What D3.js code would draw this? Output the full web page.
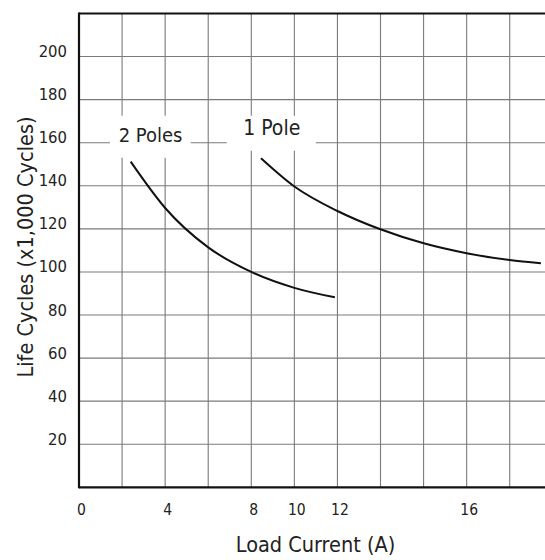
<!DOCTYPE html>
<html><head><meta charset="utf-8">
<script src="https://cdn.jsdelivr.net/npm/d3@7"></script>
<style>
body{margin:0;background:#fff}
text{font-family:"Liberation Sans Narrow","DejaVu Sans Condensed",sans-serif;fill:#222}
</style>
</head><body>
<svg id="c" width="545" height="560"></svg>
<script>
// ---- data ----
const xTickValues = [0, 4, 8, 10, 12, 16];
const yTickValues = [20, 40, 60, 80, 100, 120, 140, 160, 180, 200];
const seriesNames = ["2 Poles", "1 Pole"];
const twoPoleCurrent = [2.4, 4, 6, 8, 10, 11.88];
const twoPoleLife    = [151.2, 129.7, 111.4, 100, 92.6, 88.2];
const onePoleCurrent = [8.45, 10, 12, 13.33, 14.67, 16, 17.33, 18.3];
const onePoleLife    = [152.8, 139.7, 128.3, 119.8, 113.3, 108.7, 105.5, 104];
const labelAnchors = [{current: 3.32, life: 160}, {current: 8.95, life: 160}];

// ---- layout ----
const W = 545, H = 560;
const plotLeft = 79, plotTop = 13.5, plotBottom = 487.3;
const svg = d3.select("#c");

const y = d3.scaleLinear().domain([0, 220]).range([plotBottom, plotTop]);
const cell = (plotBottom - plotTop) / 11;
// the printed axis is not linear: tick labels sit on grid cells 0,2,4,5,6,9
const tickCells = [0, 2, 4, 5, 6, 9];
const x = d3.scaleLinear().domain(xTickValues).range(tickCells.map(c => plotLeft + c * cell));

// grid
const g = svg.append("g");
const vLines = d3.range(1, 12).map(k => plotLeft + k * cell).filter(v => v < W);
g.selectAll("line.v").data(vLines).join("line")
  .attr("x1", d => d).attr("x2", d => d).attr("y1", plotTop).attr("y2", plotBottom)
  .attr("stroke", "#7a7a7a").attr("stroke-width", 1.1);
g.selectAll("line.h").data(yTickValues).join("line")
  .attr("x1", plotLeft).attr("x2", W).attr("y1", d => y(d)).attr("y2", d => y(d))
  .attr("stroke", "#7a7a7a").attr("stroke-width", 1.1);

// label boxes (white) over grid
const boxes = [
  {dx0: -40.5, dx1: 40.2, dy0: -27, dy1: 15},
  {dx0: -45, dx1: 44, dy0: -27, dy1: 8}
];
const labelSizes = [20, 21];
const labelDy = [-0.6, -8];
labelAnchors.forEach((a, i) => {
  const cx = x(a.current), cy = y(a.life), b = boxes[i];
  svg.append("rect").attr("x", cx + b.dx0).attr("y", cy + b.dy0)
    .attr("width", b.dx1 - b.dx0).attr("height", b.dy1 - b.dy0).attr("fill", "#fff");
  svg.append("text").attr("x", cx).attr("y", cy + labelDy[i])
    .attr("text-anchor", "middle").attr("font-size", labelSizes[i]).text(seriesNames[i]);
});

// curves
const line = d3.line().x(d => x(d[0])).y(d => y(d[1])).curve(d3.curveMonotoneX);
const series = [
  d3.zip(twoPoleCurrent, twoPoleLife),
  d3.zip(onePoleCurrent, onePoleLife)
];
svg.selectAll("path.s").data(series).join("path")
  .attr("d", line).attr("fill", "none").attr("stroke", "#111").attr("stroke-width", 2);

// axes frame
svg.append("line").attr("x1", plotLeft).attr("x2", plotLeft).attr("y1", plotTop - 1).attr("y2", plotBottom + 1)
  .attr("stroke", "#111").attr("stroke-width", 2.2);
svg.append("line").attr("x1", plotLeft).attr("x2", W).attr("y1", plotBottom).attr("y2", plotBottom)
  .attr("stroke", "#111").attr("stroke-width", 2.2);
svg.append("line").attr("x1", plotLeft).attr("x2", W).attr("y1", plotTop).attr("y2", plotTop)
  .attr("stroke", "#111").attr("stroke-width", 2.2);

// y ticks
svg.selectAll("text.yt").data(yTickValues).join("text")
  .attr("x", 67).attr("y", d => y(d) + 0.5).attr("text-anchor", "end")
  .attr("font-size", 16.5).text(d => d);

// x ticks
svg.selectAll("text.xt").data(xTickValues).join("text")
  .attr("x", d => x(d) + 2.5).attr("y", 515).attr("text-anchor", "middle")
  .attr("font-size", 15.5).text(d => d);

// titles
svg.append("text").attr("x", 315.5).attr("y", 552.3).attr("text-anchor", "middle")
  .attr("font-size", 21.5).text("Load Current (A)");
svg.append("text").attr("transform", "translate(33,247) rotate(-90)")
  .attr("text-anchor", "middle").attr("font-size", 21.5).text("Life Cycles (x1,000 Cycles)");
</script>
</body></html>
